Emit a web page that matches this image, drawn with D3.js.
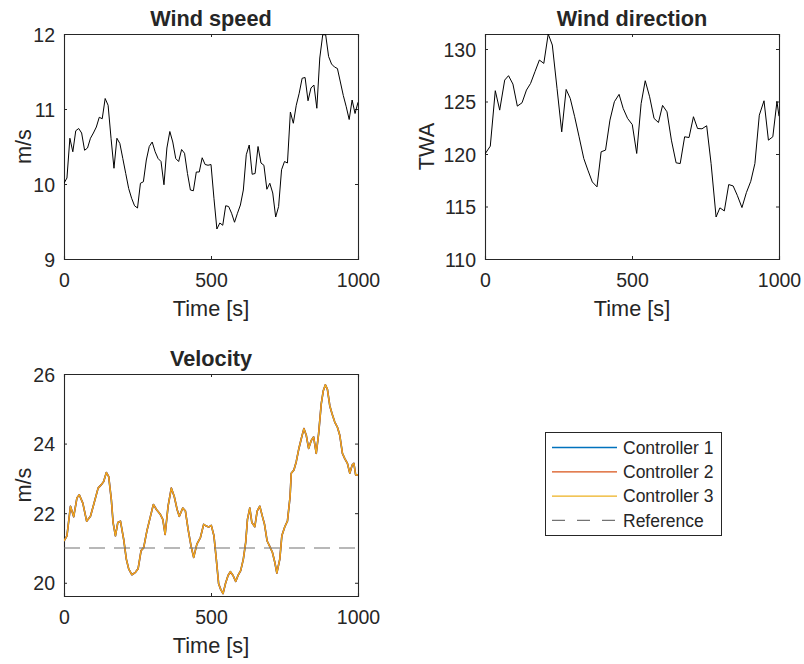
<!DOCTYPE html>
<html>
<head>
<meta charset="utf-8">
<script src="https://cdn.jsdelivr.net/npm/d3@7"></script>
<style>
  html, body { margin: 0; padding: 0; background: #fff; }
  svg text { font-family: "Liberation Sans", Arial, Helvetica, sans-serif; fill: #262626; }
</style>
</head>
<body>
<svg id="fig" width="804" height="664"></svg>
<script>
// ---- Wind speed (m/s), sampled every 10 s ----
const windSpeedTime = [
  0, 10, 20, 30, 40, 50, 60, 70, 80, 90, 100, 110, 120, 130, 140, 150, 160, 170, 180, 190,
  200, 210, 220, 230, 240, 250, 260, 270, 280, 290, 300, 310, 320, 330, 340, 350, 360, 370, 380, 390,
  400, 410, 420, 430, 440, 450, 460, 470, 480, 490, 500, 510, 520, 530, 540, 550, 560, 570, 580, 590,
  600, 610, 620, 630, 640, 650, 660, 670, 680, 690, 700, 710, 720, 730, 740, 750, 760, 770, 780, 790,
  800, 810, 820, 830, 840, 850, 860, 870, 880, 890, 900, 910, 920, 930, 940, 950, 960, 970, 980, 990, 1000
];
const windSpeed = [
  10.01, 10.08, 10.61, 10.43, 10.71, 10.74, 10.68, 10.45, 10.48, 10.61,
  10.68, 10.76, 10.89, 10.87, 11.14, 11.05, 10.61, 10.21, 10.61, 10.54,
  10.34, 10.14, 9.94, 9.81, 9.71, 9.68, 10.01, 10.03, 10.32, 10.50,
  10.56, 10.43, 10.34, 10.30, 9.99, 10.48, 10.70, 10.56, 10.34, 10.30,
  10.46, 10.41, 10.14, 9.92, 9.91, 10.16, 10.16, 10.35, 10.26, 10.25,
  10.26, 9.81, 9.40, 9.48, 9.45, 9.71, 9.70, 9.61, 9.49, 9.61,
  9.72, 9.92, 10.39, 10.52, 10.13, 10.14, 10.50, 10.28, 10.25, 9.93,
  10.01, 9.88, 9.56, 9.70, 10.19, 10.30, 10.28, 10.96, 10.81, 11.05,
  11.21, 11.41, 11.42, 11.11, 11.28, 11.32, 11.01, 11.68, 11.99, 11.99,
  11.70, 11.60, 11.56, 11.54, 11.36, 11.18, 11.03, 10.86, 11.12, 10.94,
  11.09
];

// ---- Wind direction (true wind angle, deg) ----
const windDirTime = [
  0, 18, 35, 50, 67, 80, 95, 110, 126, 141, 155, 170, 185, 200, 215, 229, 245, 261, 276, 290,
  305, 320, 336, 350, 365, 381, 395, 410, 425, 440, 456, 470, 485, 501, 516, 531, 545, 560, 575, 590,
  604, 619, 634, 650, 664, 679, 694, 709, 723, 738, 754, 769, 786, 799, 814, 829, 844, 858, 874, 889,
  904, 918, 933, 949, 964, 979, 993, 1000
];
const windDir = [
  120.0, 120.75, 126.03, 124.18, 127.04, 127.46, 126.66, 124.56, 124.88, 126.09,
  126.72, 127.84, 128.95, 128.63, 131.43, 130.38, 126.25, 122.11, 126.15, 125.29,
  123.55, 121.64, 119.57, 118.46, 117.34, 116.87, 120.21, 120.37, 123.23, 124.98,
  125.68, 124.34, 123.39, 122.8, 120.05, 124.8, 126.98, 125.45, 123.39, 123.0,
  124.63, 124.02, 121.32, 119.16, 119.09, 121.64, 121.57, 123.55, 122.43, 122.4,
  122.69, 119.09, 114.0, 114.87, 114.58, 117.09, 116.96, 116.07, 114.9, 116.32,
  117.4, 119.09, 123.7, 125.07, 121.32, 121.64, 125.0, 123.6
];

// ---- Boat velocity (m/s) for the three controllers ----
const velocityTime = [
  0, 10, 22, 33, 44, 52, 64, 77, 90, 101, 116, 127, 135, 144, 152, 161, 167, 175, 183, 192,
  203, 212, 220, 231, 243, 252, 262, 271, 282, 294, 304, 315, 328, 336, 344, 354, 365, 375, 385, 392,
  404, 413, 422, 432, 441, 452, 464, 475, 484, 492, 501, 510, 518, 526, 533, 541, 549, 558, 566, 575,
  584, 592, 601, 610, 618, 624, 632, 639, 649, 657, 666, 675, 682, 691, 699, 709, 717, 724, 734, 741,
  751, 760, 769, 773, 782, 790, 799, 807, 816, 824, 832, 841, 849, 858, 866, 875, 882, 889, 896, 904,
  912, 921, 930, 938, 947, 955, 964, 972, 980, 986, 992, 1000
];
const velocity = [
  21.20, 21.35, 22.20, 21.90, 22.44, 22.53, 22.29, 21.77, 21.91, 22.25,
  22.72, 22.82, 22.91, 23.17, 23.05, 22.39, 21.73, 21.35, 21.73, 21.77,
  21.25, 20.68, 20.40, 20.23, 20.30, 20.40, 20.92, 21.01, 21.49, 21.91,
  22.25, 22.10, 21.96, 21.82, 21.39, 22.20, 22.72, 22.48, 22.10, 21.91,
  22.15, 22.06, 21.54, 21.06, 20.73, 21.11, 21.30, 21.68, 21.63, 21.60,
  21.65, 21.35, 20.68, 19.97, 19.81, 19.69, 19.97, 20.21, 20.32, 20.21,
  20.04, 20.21, 20.35, 20.68, 21.16, 21.82, 22.15, 21.73, 21.61, 22.06,
  22.20, 21.90, 21.68, 21.20, 21.06, 20.87, 20.59, 20.28, 20.68, 21.35,
  21.61, 21.77, 22.48, 23.15, 23.24, 23.48, 23.86, 24.14, 24.43, 24.24,
  23.86, 24.09, 24.19, 23.72, 24.28, 25.14, 25.52, 25.69, 25.56, 25.09,
  24.85, 24.62, 24.47, 24.24, 23.72, 23.57, 23.43, 23.15, 23.38, 23.43,
  23.10, 23.10
];
const referenceVelocity = 21;

const controllerNames = ["Controller 1", "Controller 2", "Controller 3"];
const controllerColors = ["#0072BD", "#D95319", "#EDB120"];
const referenceName = "Reference";

const timeTicks = [0, 500, 1000];
const speedTicks = [9, 10, 11, 12];
const dirTicks = [110, 115, 120, 125, 130];
const velTicks = [20, 22, 24, 26];

// ---- Drawing ----
const svg = d3.select("#fig");
const AXIS = "#262626";

function panel(opts) {
  const { left, top, width, height, xDomain, yDomain, xTicks, yTicks, title, yLabel } = opts;
  const x = d3.scaleLinear().domain(xDomain).range([left, left + width]);
  const y = d3.scaleLinear().domain(yDomain).range([top + height, top]);
  const g = svg.append("g");

  const tickLen = 3;
  const axB = d3.axisBottom(x).tickValues(xTicks).tickSize(-tickLen).tickPadding(14).tickFormat(d3.format("d"));
  const axT = d3.axisTop(x).tickValues(xTicks).tickSize(-tickLen).tickFormat("");
  const axL = d3.axisLeft(y).tickValues(yTicks).tickSize(-tickLen).tickPadding(9).tickFormat(d3.format("d"));
  const axR = d3.axisRight(y).tickValues(yTicks).tickSize(-tickLen).tickFormat("");

  const gB = g.append("g").attr("transform", `translate(0,${top + height})`).call(axB);
  const gT = g.append("g").attr("transform", `translate(0,${top})`).call(axT);
  const gL = g.append("g").attr("transform", `translate(${left},0)`).call(axL);
  const gR = g.append("g").attr("transform", `translate(${left + width},0)`).call(axR);
  [gB, gT, gL, gR].forEach(a => {
    a.select(".domain").attr("stroke", AXIS).attr("stroke-width", 1.1);
    a.selectAll(".tick line").attr("stroke", AXIS).attr("stroke-width", 1);
    a.selectAll("text").attr("font-size", 19.5).attr("fill", AXIS)
      .style("font-family", '"Liberation Sans", Arial, sans-serif');
  });
  gL.selectAll("text").attr("dy", "0.36em");

  // titles and labels
  g.append("text")
    .attr("x", left + width / 2).attr("y", top - 8)
    .attr("text-anchor", "middle").attr("font-size", 21.7).attr("font-weight", "bold")
    .attr("fill", "#000")
    .text(title);
  g.append("text")
    .attr("x", left + width / 2).attr("y", top + height + 57)
    .attr("text-anchor", "middle").attr("font-size", 21.7)
    .text("Time [s]");
  g.append("text")
    .attr("transform", `translate(${opts.yLabelX},${top + height / 2}) rotate(-90)`)
    .attr("text-anchor", "middle").attr("font-size", 21.7)
    .text(yLabel);

  const clipId = "clip" + Math.round(left) + "_" + Math.round(top);
  svg.append("clipPath").attr("id", clipId).append("rect")
    .attr("x", left).attr("y", top - 1).attr("width", width).attr("height", height + 2);
  const plot = svg.append("g").attr("clip-path", `url(#${clipId})`);
  return { x, y, plot };
}

// Wind speed
{
  const p = panel({ left: 64, top: 34, width: 294, height: 225, xDomain: [0, 1000], yDomain: [9, 12],
    xTicks: timeTicks, yTicks: speedTicks, title: "Wind speed", yLabel: "m/s", yLabelX: 31 });
  const line = d3.line().x((d, i) => p.x(windSpeedTime[i])).y(d => p.y(d));
  p.plot.append("path").datum(windSpeed).attr("d", line)
    .attr("fill", "none").attr("stroke", "#000").attr("stroke-width", 1).attr("stroke-linejoin", "round");
}

// Wind direction
{
  const p = panel({ left: 485, top: 34, width: 294, height: 225, xDomain: [0, 1000], yDomain: [110, 131.43],
    xTicks: timeTicks, yTicks: dirTicks, title: "Wind direction", yLabel: "TWA", yLabelX: 434 });
  const line = d3.line().x((d, i) => p.x(windDirTime[i])).y(d => p.y(d));
  p.plot.append("path").datum(windDir).attr("d", line)
    .attr("fill", "none").attr("stroke", "#000").attr("stroke-width", 1).attr("stroke-linejoin", "round");
}

// Velocity
{
  const p = panel({ left: 64, top: 374, width: 294, height: 222, xDomain: [0, 1000], yDomain: [19.62, 26],
    xTicks: timeTicks, yTicks: velTicks, title: "Velocity", yLabel: "m/s", yLabelX: 31 });
  const line = d3.line().x((d, i) => p.x(velocityTime[i])).y(d => p.y(d));
  const widths = [1.6, 1.6, 1.1];
  controllerNames.forEach((name, k) => {
    p.plot.append("path").datum(velocity).attr("d", line)
      .attr("fill", "none").attr("stroke", controllerColors[k]).attr("stroke-width", widths[k])
      .attr("stroke-linejoin", "round");
  });
  p.plot.append("line")
    .attr("x1", p.x(0)).attr("x2", p.x(1000))
    .attr("y1", p.y(referenceVelocity)).attr("y2", p.y(referenceVelocity))
    .attr("stroke", "#737373").attr("stroke-width", 1.2).attr("stroke-dasharray", "16,9");
}

// Legend
{
  const lg = svg.append("g");
  lg.append("rect").attr("x", 545.5).attr("y", 432.5).attr("width", 176).attr("height", 103)
    .attr("fill", "#fff").attr("stroke", AXIS).attr("stroke-width", 1);
  const entries = controllerNames.map((n, k) => ({ name: n, color: controllerColors[k], dash: null }))
    .concat([{ name: referenceName, color: "#737373", dash: "13,12" }]);
  entries.forEach((e, i) => {
    const cy = 447.5 + i * 24.3;
    lg.append("line").attr("x1", 552).attr("x2", 617).attr("y1", cy).attr("y2", cy)
      .attr("stroke", e.color).attr("stroke-width", e.dash ? 1.2 : 1.3)
      .attr("stroke-dasharray", e.dash);
    lg.append("text").attr("x", 623).attr("y", cy).attr("dy", "0.36em")
      .attr("font-size", 17.5).attr("fill", "#000").text(e.name);
  });
}
</script>
</body>
</html>
